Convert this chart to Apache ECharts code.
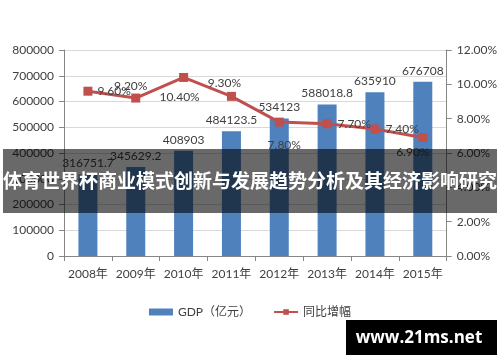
<!DOCTYPE html>
<html>
<head>
<meta charset="utf-8">
<script src="https://cdn.jsdelivr.net/npm/echarts@6/dist/echarts.min.js"></script>
<style>html,body{margin:0;padding:0;background:#fff}#c{width:500px;height:362px}</style>
</head>
<body>
<div id="c"></div>
<script>
var categories = ['2008年','2009年','2010年','2011年','2012年','2013年','2014年','2015年'];
var gdpValues = [316751.7, 345629.2, 408903, 484123.5, 534123, 588018.8, 635910, 676708];
var growthValues = [9.6, 9.2, 10.4, 9.3, 7.8, 7.7, 7.4, 6.9];
var seriesNames = ['GDP（亿元）', '同比增幅'];
var titleText = '体育世界杯商业模式创新与发展趋势分析及其经济影响研究';
var watermarkText = 'www.21ms.net';

var FONT = "Lato, 'Noto Sans CJK SC', sans-serif";
var TXT = '#404040';
var labelStyles = [
  {position:'right', distance:5},
  {position:'top', distance:1, offset:[-5,0]},
  {position:'bottom', distance:9, offset:[-4,0]},
  {position:'top', distance:3, offset:[-7,0]},
  {position:'bottom', distance:13, offset:[5,0]},
  {position:'right', distance:6},
  {position:'right', distance:6},
  {position:'bottom', distance:4, offset:[-10,0]}
];
var lineData = growthValues.map(function(v,i){
  return {value:v, label:labelStyles[i]};
});

var chart = echarts.init(document.getElementById('c'));
chart.setOption({
  animation:false,
  textStyle:{fontFamily:FONT},
  grid:{left:64, right:49, top:50, bottom:106},
  legend:{
    data:[{name:seriesNames[0], icon:'rect'}, {name:seriesNames[1]}],
    top:301, left:'center', itemGap:22, itemWidth:24, itemHeight:7,
    textStyle:{color:TXT, fontSize:12, fontFamily:FONT}
  },
  xAxis:{
    type:'category', data:categories,
    axisLine:{lineStyle:{color:'#868686'}},
    axisTick:{show:true, length:5, lineStyle:{color:'#868686'}},
    axisLabel:{color:TXT, fontSize:12, margin:12, fontFamily:FONT, interval:0}
  },
  yAxis:[{
    type:'value', min:0, max:800000, interval:100000,
    axisLine:{show:true, lineStyle:{color:'#868686'}},
    axisTick:{show:true, length:5, lineStyle:{color:'#868686'}},
    axisLabel:{color:TXT, fontSize:12, margin:10, fontFamily:FONT,
      formatter:function(v){return String(v);}},
    splitLine:{lineStyle:{color:'#d9d9d9'}}
  },{
    type:'value', min:0, max:12, interval:2, position:'right',
    axisLine:{show:true, lineStyle:{color:'#868686'}},
    axisTick:{show:true, length:5, lineStyle:{color:'#868686'}},
    axisLabel:{color:TXT, fontSize:12, margin:10, fontFamily:FONT,
      formatter:function(v){return v.toFixed(2)+'%';}},
    splitLine:{show:false}
  }],
  series:[{
    name:seriesNames[0], type:'bar', data:gdpValues, barWidth:19,
    itemStyle:{color:'#4f81bd'},
    label:{show:true, position:'top', color:TXT, fontSize:12, fontFamily:FONT, distance:5}
  },{
    name:seriesNames[1], type:'line', yAxisIndex:1, data:lineData,
    symbol:'rect', symbolSize:9,
    lineStyle:{color:'#c0504d', width:3}, itemStyle:{color:'#c0504d'},
    label:{show:true, color:TXT, fontSize:12, fontFamily:FONT,
      formatter:function(p){return p.value.toFixed(2)+'%';}}
  }],
  graphic:[{
    type:'rect', z:100, shape:{x:3, y:149, width:494, height:64},
    style:{fill:'rgba(0,0,0,0.59)'}
  },{
    type:'text', z:101, x:250, y:181,
    style:{text:titleText, fill:'#fff', font:"bold 19px 'Noto Sans CJK SC', sans-serif",
      textAlign:'center', textVerticalAlign:'middle'}
  },{
    type:'rect', z:100, shape:{x:346, y:320, width:151, height:35},
    style:{fill:'#000'}
  },{
    type:'text', z:101, x:419, y:338,
    style:{text:watermarkText, fill:'#fff', font:"bold 17px 'Open Sans', 'DejaVu Sans', sans-serif",
      textAlign:'center', textVerticalAlign:'middle'}
  }]
});
</script>
</body>
</html>
